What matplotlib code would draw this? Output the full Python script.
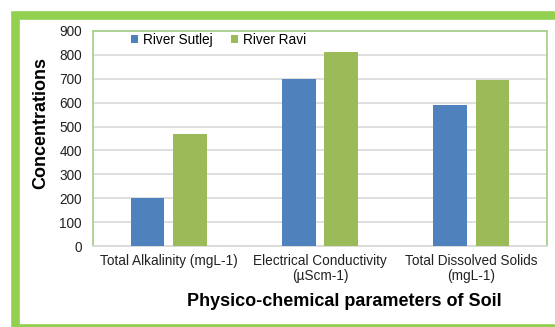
import matplotlib.pyplot as plt
import numpy as np
from matplotlib.patches import Rectangle

parametros = ['Total Alkalinity (mgL-1)', 'Electrical Conductivity\n(µScm-1)',
              'Total Dissolved Solids\n(mgL-1)']
sutlej = [200, 697, 590]
ravi = [469, 813, 693]

W, H = 555, 327
fig = plt.figure(figsize=(W / 100, H / 100), dpi=100)
plt.rcParams['font.family'] = ['Liberation Sans', 'DejaVu Sans']

# marco verde exterior (el lado derecho queda fuera de la imagen)
marco = Rectangle((14.5 / W, 1 - 327.5 / H), 600 / W, (327.5 - 15) / H,
                  transform=fig.transFigure, fill=False, edgecolor='#92d050',
                  linewidth=6.2, clip_on=False)
fig.patches.append(marco)

ax = fig.add_axes([93 / W, 1 - 246 / H, (547 - 93) / W, (246 - 31) / H])

x = np.arange(len(parametros))
ancho = 0.221
ax.bar(x - 0.14, sutlej, ancho, color='#4f81bd', label='River Sutlej', zorder=3)
ax.bar(x + 0.14, ravi, ancho, color='#9bbb59', label='River Ravi', zorder=3)

ax.set_xlim(-0.5, 2.5)
ax.set_ylim(0, 900)
ax.set_yticks(range(0, 901, 100))
ax.set_xticks(x)
ax.set_xticklabels(parametros, fontsize=9.8, color='#222222', linespacing=1.1)
ax.tick_params(axis='y', labelsize=9.8, labelcolor='#222222', length=0, pad=8)
ax.tick_params(axis='x', length=0, pad=6)
ax.grid(axis='y', color='#d9d9d9', linewidth=1.2, zorder=0)

for lado in ax.spines.values():
    lado.set_color('#a9d18e')
    lado.set_linewidth(1.3)
ax.spines['bottom'].set_color('#d9d9d9')

ax.set_ylabel('Concentrations', fontsize=13, fontweight='bold', labelpad=7, y=0.57)
ax.set_xlabel('Physico-chemical parameters of Soil', fontsize=13,
              fontweight='bold', labelpad=7, x=0.553)

ax.legend(loc='upper left', bbox_to_anchor=(0.084, 0.99), ncol=2, frameon=False,
          fontsize=9.8, handlelength=0.5, handleheight=0.5, handletextpad=0.35,
          columnspacing=1.4, borderpad=0, borderaxespad=0)

fig.savefig('out.png', dpi=100)
